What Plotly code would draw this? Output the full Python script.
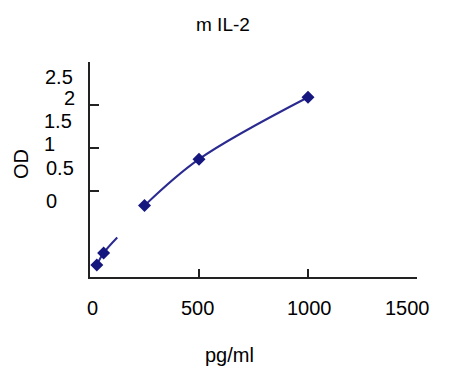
import plotly.graph_objects as go

# Data
conc = [31.25, 62.5, 250, 500, 1000]
od = [0.14, 0.28, 0.83, 1.37, 2.09]

# fitted curve (two drawn segments, gap in between)
curve_x = [31.25, 62.5, 125, None, 250, 500, 1000]
curve_y = [0.14, 0.28, 0.46, None, 0.83, 1.37, 2.09]

x_ticks = [0, 500, 1000, 1500]
y_tick_vals = [1.0, 1.5, 2.0, 2.5]
y_labels = ["2.5", "2", "1.5", "1", "0.5", "0"]

OFF = 8  # page body margin
W, H = 449 - OFF, 377 - OFF
L, R, T, B = 90 - OFF, 32, 62 - OFF, 100
pw, ph = W - L - R, H - T - B
FONT = "Arial, Liberation Sans, sans-serif"
COL = "#16167f"


def px2paper(px, py):
    return (px - OFF - L) / pw, (H - B - (py - OFF)) / ph


fig = go.Figure()
fig.add_trace(go.Scatter(x=curve_x, y=curve_y, mode="lines",
                         line=dict(color="#2a2a90", width=2, shape="spline"),
                         connectgaps=False, hoverinfo="skip", showlegend=False))
fig.add_trace(go.Scatter(x=conc, y=od, mode="markers",
                         marker=dict(symbol="diamond", size=10, color=COL),
                         showlegend=False))

ann = []
# y tick label placement as in the reference (pixel positions: style only)
lab_px = [(75, 77), (77, 98), (74, 121), (57, 144), (76, 168), (59, 201)]
for txt, (px, py) in zip(y_labels, lab_px):
    x, y = px2paper(px, py)
    ann.append(dict(text=txt, xref="paper", yref="paper", x=x, y=y,
                    xanchor="right", yanchor="middle", showarrow=False,
                    font=dict(family=FONT, size=20, color="#000")))
# x tick labels
xlab_px = [92.5, 197.5, 309, 407.5]
for v, px in zip(x_ticks, xlab_px):
    x, y = px2paper(px, 308)
    ann.append(dict(text=str(v), xref="paper", yref="paper", x=x, y=y,
                    xanchor="center", yanchor="middle", showarrow=False,
                    font=dict(family=FONT, size=20, color="#000")))

for txt, (px, py), size, ang, xa in [("m IL-2", (222.5, 25), 19, 0, "center"),
                                     ("OD", (8, 164), 20, -90, "left"),
                                     ("pg/ml", (229, 355), 20, 0, "center")]:
    x, y = px2paper(px, py)
    ann.append(dict(text=txt, xref="paper", yref="paper", x=x, y=y, textangle=ang,
                    xanchor=xa, yanchor="middle", showarrow=False,
                    font=dict(family=FONT, size=size, color="#000")))

fig.update_layout(
    width=W, height=H, margin=dict(l=L, r=R, t=T, b=B),
    paper_bgcolor="white", plot_bgcolor="white",
    annotations=ann, showlegend=False,
    xaxis=dict(range=[0, 1500], tickvals=x_ticks, showticklabels=False,
               ticks="inside", ticklen=8, tickwidth=2, tickcolor="#222",
               showline=True, linewidth=2, linecolor="#222", showgrid=False, zeroline=False),
    yaxis=dict(range=[0, 2.5], tickvals=y_tick_vals, showticklabels=False,
               ticks="inside", ticklen=9, tickwidth=2, tickcolor="#222",
               showline=True, linewidth=2, linecolor="#222", showgrid=False, zeroline=False),
)
fig.write_html("out.html")
